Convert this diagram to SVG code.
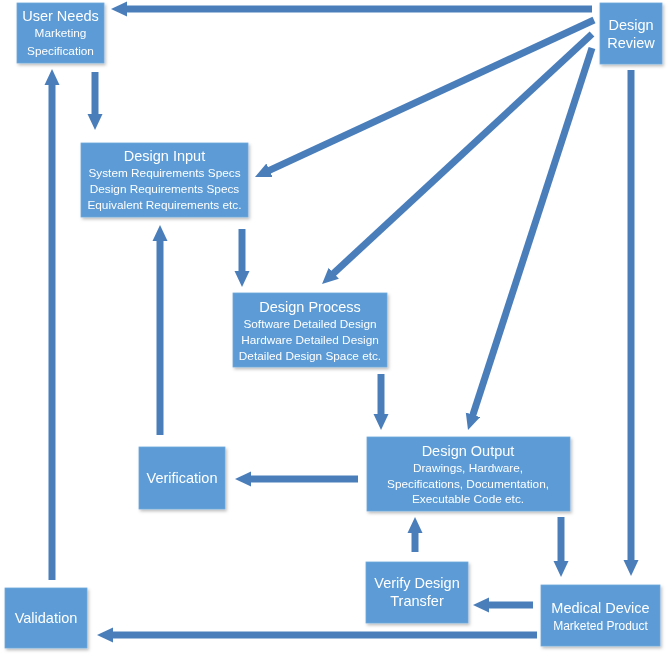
<svg xmlns="http://www.w3.org/2000/svg" width="669" height="657" viewBox="0 0 669 657">
<style>
.box{fill:#5B9BD5;stroke:#6FA8DC;stroke-width:0.8}
.t{font-family:"Liberation Sans",Arial,sans-serif;fill:#ffffff;text-anchor:middle}
.h{font-size:14.5px}
.s{font-size:11.8px}
.c line{stroke:#4A7EBB;stroke-width:7;marker-end:url(#ah)}
</style>
<defs>
<filter id="sh" x="-10%" y="-10%" width="130%" height="130%">
<feDropShadow dx="1.5" dy="2" stdDeviation="1.5" flood-color="#000" flood-opacity="0.25"/>
</filter>
<marker id="ah" markerUnits="userSpaceOnUse" markerWidth="16" markerHeight="16" viewBox="0 0 16 16" refX="2" refY="8" orient="auto">
<path d="M0,0.5 L16,8 L0,15.5 z" fill="#4A7EBB"/>
</marker>
</defs>
<rect width="669" height="657" fill="#ffffff"/>
<g id="connectors" class="c">
<line x1="592" y1="9" x2="125" y2="9"/>
<line x1="594" y1="20" x2="267.7" y2="171.1"/>
<line x1="592" y1="34" x2="332.3" y2="274.5"/>
<line x1="592" y1="48" x2="472.3" y2="416.7"/>
<line x1="631" y1="70" x2="631" y2="562"/>
<line x1="95" y1="72" x2="95" y2="116"/>
<line x1="242" y1="229" x2="242" y2="273"/>
<line x1="381" y1="374" x2="381" y2="416"/>
<line x1="561" y1="517" x2="561" y2="563"/>
<line x1="533" y1="605" x2="487" y2="605"/>
<line x1="415" y1="552" x2="415" y2="531"/>
<line x1="537" y1="635" x2="111" y2="635"/>
<line x1="358" y1="479" x2="249" y2="479"/>
<line x1="160" y1="435" x2="160" y2="239"/>
<line x1="52" y1="580" x2="52" y2="83"/>
</g>
<g id="user-needs" filter="url(#sh)">
<rect class="box" x="17" y="3" width="87" height="60"/>
<text class="t h" x="60.5" y="21">User Needs</text>
<text class="t s" x="60.5" y="37">Marketing</text>
<text class="t s" x="60.5" y="55">Specification</text>
</g>
<g id="design-review" filter="url(#sh)">
<rect class="box" x="600" y="3" width="62" height="61"/>
<text class="t h" x="631" y="30">Design</text>
<text class="t h" x="631" y="48">Review</text>
</g>
<g id="design-input" filter="url(#sh)">
<rect class="box" x="81" y="143" width="167" height="74"/>
<text class="t h" x="164.5" y="161">Design Input</text>
<text class="t s" x="164.5" y="177">System Requirements Specs</text>
<text class="t s" x="164.5" y="193">Design Requirements Specs</text>
<text class="t s" x="164.5" y="209">Equivalent Requirements etc.</text>
</g>
<g id="design-process" filter="url(#sh)">
<rect class="box" x="233" y="293" width="154" height="74"/>
<text class="t h" x="310" y="312">Design Process</text>
<text class="t s" x="310" y="328">Software Detailed Design</text>
<text class="t s" x="310" y="344">Hardware Detailed Design</text>
<text class="t s" x="310" y="360">Detailed Design Space etc.</text>
</g>
<g id="design-output" filter="url(#sh)">
<rect class="box" x="367" y="437" width="203" height="74"/>
<text class="t h" x="468" y="456">Design Output</text>
<text class="t s" x="468" y="472">Drawings, Hardware,</text>
<text class="t s" x="468" y="488">Specifications, Documentation,</text>
<text class="t s" x="468" y="503">Executable Code etc.</text>
</g>
<g id="verification" filter="url(#sh)">
<rect class="box" x="139" y="447" width="86" height="62"/>
<text class="t h" x="182" y="483">Verification</text>
</g>
<g id="verify-design-transfer" filter="url(#sh)">
<rect class="box" x="366" y="562" width="102" height="61"/>
<text class="t h" x="417" y="588">Verify Design</text>
<text class="t h" x="417" y="606">Transfer</text>
</g>
<g id="medical-device" filter="url(#sh)">
<rect class="box" x="541" y="585" width="119" height="61"/>
<text class="t h" x="600.5" y="613">Medical Device</text>
<text class="t" style="font-size:12px" x="600.5" y="630">Marketed Product</text>
</g>
<g id="validation" filter="url(#sh)">
<rect class="box" x="5" y="588" width="82" height="60"/>
<text class="t h" x="46" y="623">Validation</text>
</g>
</svg>
